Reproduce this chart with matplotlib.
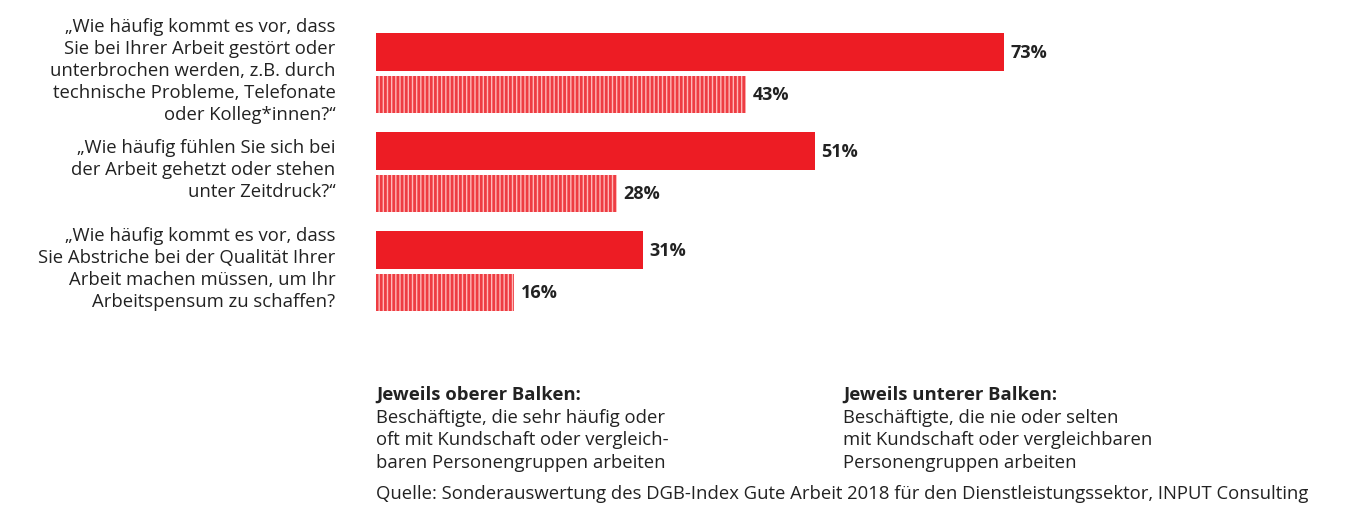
import matplotlib
matplotlib.use("Agg")
import matplotlib.pyplot as plt

plt.rcParams['font.family'] = ['Open Sans', 'DejaVu Sans']
plt.rcParams['hatch.linewidth'] = 2.0

questions = [
    "„Wie häufig kommt es vor, dass\nSie bei Ihrer Arbeit gestört oder\nunterbrochen werden, z.B. durch\ntechnische Probleme, Telefonate\noder Kolleg*innen?“",
    "„Wie häufig fühlen Sie sich bei\nder Arbeit gehetzt oder stehen\nunter Zeitdruck?“",
    "„Wie häufig kommt es vor, dass\nSie Abstriche bei der Qualität Ihrer\nArbeit machen müssen, um Ihr\nArbeitspensum zu schaffen?",
]
with_customers = [73, 51, 31]
without_customers = [43, 28, 16]

upper_note = ["Jeweils oberer Balken:", "Beschäftigte, die sehr häufig oder",
              "oft mit Kundschaft oder vergleich-", "baren Personengruppen arbeiten"]
lower_note = ["Jeweils unterer Balken:", "Beschäftigte, die nie oder selten",
              "mit Kundschaft oder vergleichbaren", "Personengruppen arbeiten"]
source = "Quelle: Sonderauswertung des DGB-Index Gute Arbeit 2018 für den Dienstleistungssektor, INPUT Consulting"

RED = "#ED1C24"
TEXT = "#222222"
FS = 13.3

W, H = 1348, 506
fig = plt.figure(figsize=(W / 100, H / 100), dpi=100)

# axes spans pixel x 376..1236 (0..100 %), y 20..330
top_px, bot_px = 20, 330
ax = fig.add_axes([376 / W, 1 - bot_px / H, 860 / W, (bot_px - top_px) / H])
unit = 99.0
ax.set_xlim(0, 100)
ax.set_ylim((bot_px - 53) / unit, (top_px - 53) / unit)
ax.axis("off")

offset = 0.425
height = 0.375
for i, (q, a, b) in enumerate(zip(questions, with_customers, without_customers)):
    ax.barh(i, a, height=height, color=RED, linewidth=0)
    ax.barh(i + offset, b, height=height, facecolor="#FFB8B8",
            edgecolor="#EE3C42", hatch="||||", linewidth=0)
    ax.text(a + 0.8, i, f"{a}%", va="center", ha="left",
            fontsize=13, fontweight="bold", color=TEXT)
    ax.text(b + 0.8, i + offset, f"{b}%", va="center", ha="left",
            fontsize=13, fontweight="bold", color=TEXT)
    ax.text(-4.7, i + offset / 2 - 0.03, q, va="center", ha="right",
            fontsize=FS, color=TEXT, linespacing=1.3)

# notes below the chart, one line at a time
line_y = [395, 418, 440, 463]
for x_px, note in [(376, upper_note), (843, lower_note)]:
    for k, (y_px, line) in enumerate(zip(line_y, note)):
        fig.text(x_px / W, 1 - y_px / H, line, fontsize=FS,
                 fontweight="bold" if k == 0 else "normal",
                 color=TEXT, va="center", ha="left")
fig.text(376 / W, 1 - 494 / H, source, fontsize=FS, color=TEXT,
         va="center", ha="left")

fig.savefig("out.png", dpi=100, facecolor="white")
